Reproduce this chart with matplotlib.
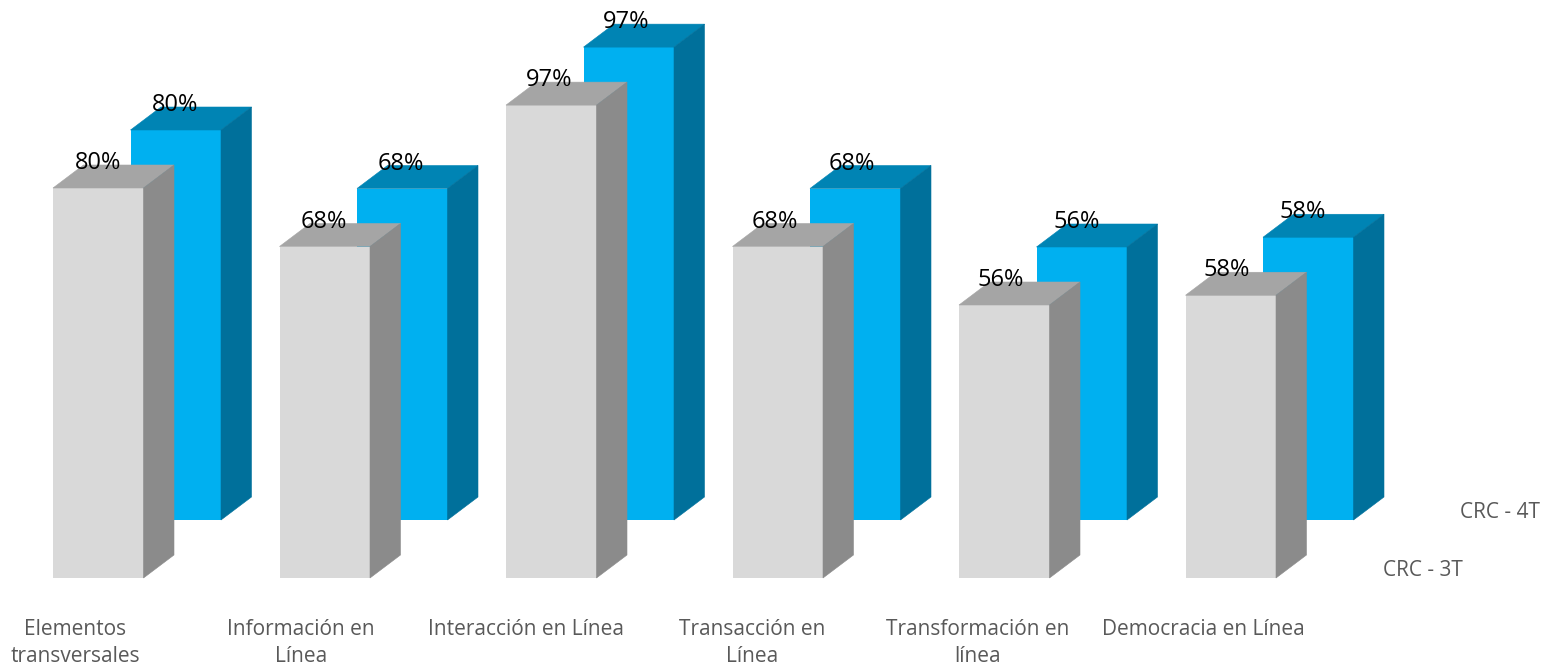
import matplotlib.pyplot as plt
import numpy as np

plt.rcParams['font.family'] = ['Open Sans', 'DejaVu Sans']

categories = ['Elementos\ntransversales', 'Información en\nLínea', 'Interacción en Línea',
              'Transacción en\nLínea', 'Transformación en\nlínea', 'Democracia en Línea']
crc_3t = [80, 68, 97, 68, 56, 58]
crc_4t = [80, 68, 97, 68, 56, 58]
series_names = ['CRC - 3T', 'CRC - 4T']

# pixel sizes of the picture, the axes fills all of it
W, H = 1551, 668
px_x = 226.5        # pixels per category
px_y = 4.875        # pixels per percent
left_px = 53        # left edge of first grey bar
base_px = 578       # grey baseline

bar_w = 90.5 / px_x
dx = 30.5 / px_x    # depth of the fake 3d
dy = 23 / px_y
shift_x = 77.5 / px_x # back row offset
shift_y = 58 / px_y
label_drift = 0.9 / px_x # labels are spaced a bit tighter than the bars


def box(ax, x, val, bottom, front, top, side):
    # x is left edge of the front face
    ax.bar(x, val, width=bar_w, bottom=bottom, align='edge', color=front, linewidth=0)
    y1 = bottom + val
    ax.fill([x, x + bar_w, x + bar_w + dx, x + dx],
            [y1, y1, y1 + dy, y1 + dy], facecolor=top, edgecolor=top, linewidth=0.4)
    ax.fill([x + bar_w, x + bar_w + dx, x + bar_w + dx, x + bar_w],
            [bottom, bottom + dy, y1 + dy, y1], facecolor=side, edgecolor=side, linewidth=0.4)


fig = plt.figure(figsize=(W / 100, H / 100), dpi=100)
ax = fig.add_axes([0, 0, 1, 1])
ax.set_xlim(-left_px / px_x, (W - left_px) / px_x)
ax.set_ylim(-(H - base_px) / px_y, base_px / px_y)
ax.axis('off')

xs = np.arange(len(categories))

for i in xs:
    box(ax, i + shift_x, crc_4t[i], shift_y, '#00B0F0', '#0084B4', '#00709B')
    box(ax, i, crc_3t[i], 0, '#D9D9D9', '#A5A5A5', '#8B8B8B')

# data labels
for i in xs:
    ax.text(i * (1 - label_drift) + shift_x + bar_w / 2 - 1 / px_x, crc_4t[i] + shift_y + 25 / px_y,
            '%d%%' % crc_4t[i], ha='center', va='center', fontsize=17, color='black')
    ax.text(i * (1 - label_drift) + bar_w / 2, crc_3t[i] + 25 / px_y,
            '%d%%' % crc_3t[i], ha='center', va='center', fontsize=17, color='black')

# category labels
for i in xs:
    ax.text(i * (1 - 0.004) + (75 - 98) / px_x + bar_w / 2, -41 / px_y, categories[i],
            ha='center', va='top', fontsize=15, color='#595959', linespacing=1.38)

# series labels sit on the depth axis
ax.text((1423 - left_px) / px_x, -(570 - base_px) / px_y, series_names[0],
        ha='center', va='center', fontsize=15, color='#595959')
ax.text((1500 - left_px) / px_x, -(512 - base_px) / px_y, series_names[1],
        ha='center', va='center', fontsize=15, color='#595959')

fig.savefig('out.png', dpi=100)
